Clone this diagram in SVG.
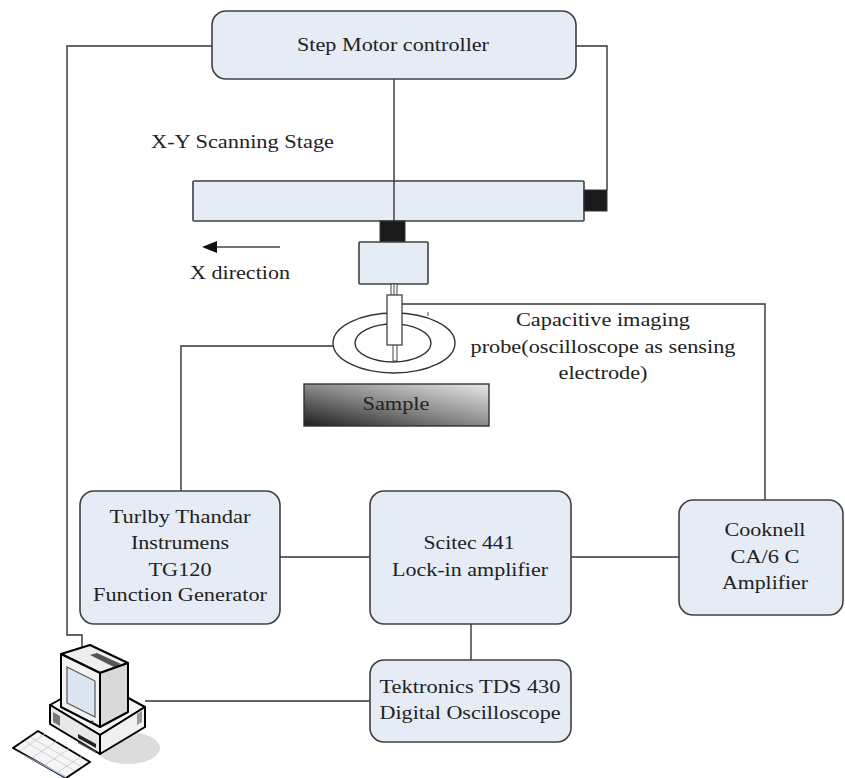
<svg xmlns="http://www.w3.org/2000/svg" width="845" height="778" viewBox="0 0 845 778">
  <defs>
    <style>
      .box { fill: #e5ecf6; stroke: #404040; stroke-width: 1.6; }
      .wire { fill: none; stroke: #333; stroke-width: 1.4; }
      .blk { fill: #1a1a1a; stroke: #333; stroke-width: 1; }
      text { font-family: "Liberation Serif", "DejaVu Serif", serif; font-size: 19.5px; fill: #222; }
      .lbl { text-anchor: middle; }
      .pc { stroke: #000; stroke-width: 2; stroke-linejoin: round; }
    </style>
    <linearGradient id="sampleGrad" x1="0" y1="1" x2="1" y2="0">
      <stop offset="0" stop-color="#1e1e1e"/>
      <stop offset="0.5" stop-color="#8a8a8a"/>
      <stop offset="1" stop-color="#e8e8e8"/>
    </linearGradient>
  </defs>

  <!-- connectors -->
  <g id="connectors">
    <!-- controller to computer -->
    <polyline class="wire" points="212,46 67,46 67,635 82,635 82,652"/>
    <!-- controller to stage right drive -->
    <polyline class="wire" points="576,46 607,46 607,190"/>
    <!-- controller to carriage drive -->
    <line class="wire" x1="394" y1="79" x2="394" y2="222"/>
    <!-- probe to Cooknell amplifier -->
    <polyline class="wire" points="402,304 765,304 765,500"/>
    <!-- guard ring to function generator -->
    <polyline class="wire" points="333,346 181,346 181,491"/>
    <!-- instrument links -->
    <line class="wire" x1="280" y1="557" x2="370" y2="557"/>
    <line class="wire" x1="571" y1="557" x2="679" y2="557"/>
    <line class="wire" x1="471" y1="624" x2="471" y2="660"/>
    <line class="wire" x1="145" y1="701" x2="370" y2="701"/>
  </g>

  <!-- step motor controller -->
  <g id="controller">
    <rect class="box" x="212" y="11" width="364" height="68" rx="14"/>
    <text class="lbl" x="393" y="51" textLength="192" lengthAdjust="spacingAndGlyphs">Step Motor controller</text>
  </g>

  <!-- scanning stage -->
  <g id="stage">
    <text x="151" y="148" textLength="183" lengthAdjust="spacingAndGlyphs">X-Y Scanning Stage</text>
    <rect class="box" x="193" y="181" width="391" height="40" rx="1"/>
    <rect class="blk" x="584" y="190" width="23" height="21"/>
    <line class="wire" x1="394" y1="181" x2="394" y2="222"/>
    <rect class="blk" x="380" y="221" width="25" height="21"/>
    <rect class="box" x="359" y="242" width="69" height="42" rx="1"/>
  </g>

  <!-- x direction arrow -->
  <g id="x-direction">
    <line x1="280" y1="247" x2="214" y2="247" stroke="#444" stroke-width="1.6"/>
    <polygon points="202,247 217,241 217,253" fill="#111"/>
    <text x="190" y="279" textLength="100" lengthAdjust="spacingAndGlyphs">X direction</text>
  </g>

  <!-- capacitive probe -->
  <g id="probe">
    <ellipse cx="394" cy="343" rx="61" ry="30" fill="#fff" stroke="#333" stroke-width="1.4"/>
    <ellipse cx="393" cy="343" rx="38" ry="19" fill="#fff" stroke="#333" stroke-width="1.4"/>
    <rect x="391" y="284" width="6" height="12" fill="#fff" stroke="#444" stroke-width="1"/>
    <line x1="394" y1="284" x2="394" y2="296" stroke="#444" stroke-width="1"/>
    <rect x="393" y="344" width="4" height="17" fill="#fff" stroke="#444" stroke-width="1"/>
    <rect x="387" y="295" width="15" height="50" fill="#fff" stroke="#444" stroke-width="1.3"/>
    <line x1="428" y1="312" x2="428" y2="316" stroke="#555" stroke-width="1"/>
    <text class="lbl" x="603" y="326" textLength="174" lengthAdjust="spacingAndGlyphs">Capacitive imaging</text>
    <text class="lbl" x="603" y="353" textLength="265" lengthAdjust="spacingAndGlyphs">probe(oscilloscope as sensing</text>
    <text class="lbl" x="603" y="379" textLength="89" lengthAdjust="spacingAndGlyphs">electrode)</text>
  </g>

  <!-- sample -->
  <g id="sample">
    <rect x="304" y="384" width="185" height="42" fill="url(#sampleGrad)" stroke="#333" stroke-width="1.4"/>
    <text class="lbl" x="396" y="410" textLength="67" lengthAdjust="spacingAndGlyphs">Sample</text>
  </g>

  <!-- function generator -->
  <g id="function-generator">
    <rect class="box" x="80" y="491" width="200" height="133" rx="14"/>
    <text class="lbl" x="180" y="523" textLength="141" lengthAdjust="spacingAndGlyphs">Turlby Thandar</text>
    <text class="lbl" x="180" y="549" textLength="98" lengthAdjust="spacingAndGlyphs">Instrumens</text>
    <text class="lbl" x="180" y="576" textLength="63" lengthAdjust="spacingAndGlyphs">TG120</text>
    <text class="lbl" x="180" y="601" textLength="174" lengthAdjust="spacingAndGlyphs">Function Generator</text>
  </g>

  <!-- lock-in amplifier -->
  <g id="lock-in">
    <rect class="box" x="370" y="491" width="201" height="133" rx="14"/>
    <text class="lbl" x="469" y="549" textLength="91" lengthAdjust="spacingAndGlyphs">Scitec 441</text>
    <text class="lbl" x="470" y="576" textLength="156" lengthAdjust="spacingAndGlyphs">Lock-in amplifier</text>
  </g>

  <!-- current amplifier -->
  <g id="cooknell">
    <rect class="box" x="679" y="500" width="164" height="115" rx="14"/>
    <text class="lbl" x="765" y="536" textLength="81" lengthAdjust="spacingAndGlyphs">Cooknell</text>
    <text class="lbl" x="765" y="563" textLength="69" lengthAdjust="spacingAndGlyphs">CA/6 C</text>
    <text class="lbl" x="765" y="589" textLength="86" lengthAdjust="spacingAndGlyphs">Amplifier</text>
  </g>

  <!-- oscilloscope -->
  <g id="oscilloscope">
    <rect class="box" x="370" y="660" width="201" height="82" rx="14"/>
    <text class="lbl" x="470" y="693" textLength="181" lengthAdjust="spacingAndGlyphs">Tektronics TDS 430</text>
    <text class="lbl" x="470" y="719" textLength="181" lengthAdjust="spacingAndGlyphs">Digital Oscilloscope</text>
  </g>

  <!-- computer -->
  <g id="computer">
    <ellipse cx="128" cy="748" rx="32" ry="16" fill="#dcdcdc"/>
    <!-- case -->
    <polygon class="pc" points="50,705 95,680 145,707 100,735" fill="#f4f4f4"/>
    <polygon class="pc" points="50,705 100,735 100,754 50,724" fill="#e8e8e8"/>
    <polygon class="pc" points="100,735 145,707 145,727 100,754" fill="#f0f0f0"/>
    <polygon points="53,712 60,716 60,726 53,722" fill="#777"/>
    <polygon points="78,734 96,744 96,748 78,738" fill="#222"/>
    <polygon points="78,741 96,751 96,753 78,743" fill="#444"/>
    <polygon points="137,714 142,711 142,722 137,725" fill="#999"/>
    <!-- monitor -->
    <polygon class="pc" points="61,654 90,645 128,663 100,673" fill="#eeeeee"/>
    <polygon points="90,655 97,653 121,664 114,667" fill="#555"/>
    <polygon class="pc" points="100,673 128,663 128,712 100,727" fill="#d9d9d9"/>
    <polygon class="pc" points="61,654 100,673 100,727 61,707" fill="#f2f2f2"/>
    <polygon points="67,667 95,681 95,717 67,703" fill="#dce6f2" stroke="#555" stroke-width="1.2"/>
    <circle cx="92" cy="722" r="1.5" fill="#333"/>
    <!-- keyboard -->
    <polygon class="pc" points="13,748 38,731 90,762 66,778" fill="#f6f6f6"/>
    <polygon points="15,750 66,776 66,778 13,749" fill="#b4c8e4"/>
    <g stroke="#c8c8c8" stroke-width="0.8">
      <line x1="24" y1="741" x2="75" y2="771"/>
      <line x1="30" y1="737" x2="82" y2="767"/>
      <line x1="20" y1="751" x2="45" y2="734"/>
      <line x1="32" y1="758" x2="57" y2="741"/>
      <line x1="45" y1="765" x2="70" y2="748"/>
      <line x1="58" y1="772" x2="82" y2="756"/>
    </g>
  </g>
</svg>
